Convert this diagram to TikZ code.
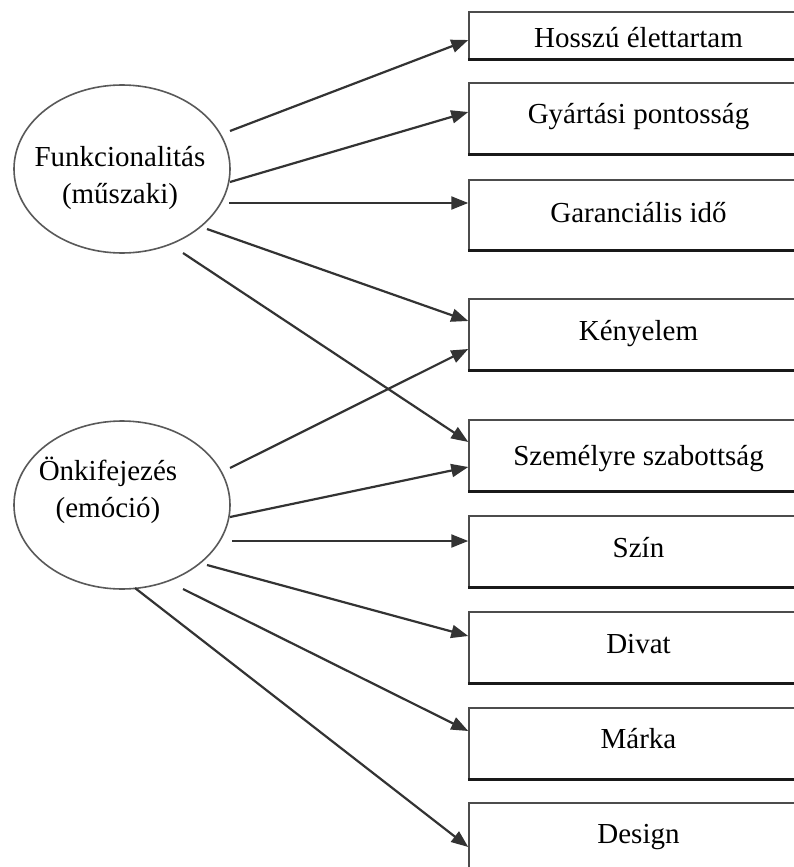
\documentclass[tikz,border=0pt]{standalone}
\usepackage{fontspec}
\setmainfont{Liberation Serif}
\usetikzlibrary{arrows.meta,calc,shapes.geometric}

\begin{document}
\begin{tikzpicture}[x=1pt,y=-1pt,
  lbl/.style={font=\fontsize{29}{37}\selectfont, inner sep=0pt, align=center},
  oval/.style={ellipse, draw=black!65, line width=1.6pt, minimum width=216pt, minimum height=168pt, inner sep=0pt},
  % #1 = height above baseline, #2 = depth below baseline
  itembox/.style 2 args={rectangle, draw=black!70, line width=1.5pt, fill=white,
    minimum width=339pt, inner sep=0pt, anchor=base, text height=#1pt, text depth=#2pt,
    font=\fontsize{29}{37}\selectfont},
  link/.style={draw=black!80, line width=2.2pt, -{Triangle[length=17pt,width=13pt]}}
]
\clip (0,0) rectangle (794,867);
\fill[white] (0,0) rectangle (794,867);

% source ellipses
\node[oval] (f) at (122,169) {};
\node[lbl] (ft) at (120,178) {Funkcionalitás\\(műszaki)};
\node[oval] (o) at (122,505) {};
\node[lbl] (ot) at (108,490) {Önkifejezés\\(emóció)};

% target boxes (right side runs past the frame)
\node[itembox={36}{11}] (b1) at (638.5,48)  {Hosszú élettartam};
\node[itembox={40}{31}] (b2) at (638.5,123) {Gyártási pontosság};
\node[itembox={42}{28}] (b3) at (638.5,222) {Garanciális idő};
\node[itembox={41}{30}] (b4) at (638.5,340) {Kényelem};
\node[itembox={45}{26}] (b5) at (638.5,465) {Személyre szabottság};
\node[itembox={41}{30}] (b6) at (638.5,557) {Szín};
\node[itembox={41}{30}] (b7) at (638.5,653) {Divat};
\node[itembox={40}{31}] (b8) at (638.5,748) {Márka};
\node[itembox={40}{31}] (b9) at (638.5,843) {Design};

% heavier lower edge of each box
\foreach \b in {b1,b2,b3,b4,b5,b6,b7,b8,b9}
  \draw[black!90, line width=2.8pt] (\b.south west) -- (\b.south east);

% functional attributes
\draw[link] ($(f.center)+(108,-38)$) -- ($(b1.west)+(0,4.5)$);
\draw[link] ($(f.center)+(108,13)$)  -- ($(b2.west)+(0,-6.5)$);
\draw[link] ($(f.center)+(107,34)$)  -- ($(b3.west)+(0,-12)$);
\draw[link] ($(f.center)+(85,60)$)   -- ($(b4.west)+(0,-13.5)$);
\draw[link] ($(f.center)+(61,84)$)   -- ($(b5.west)+(0,-13.5)$);

% emotional attributes
\draw[link] ($(o.center)+(108,-37)$) -- ($(b4.west)+(0,14.5)$);
\draw[link] ($(o.center)+(108,12)$)  -- ($(b5.west)+(0,11.5)$);
\draw[link] ($(o.center)+(110,36)$)  -- ($(b6.west)+(0,-10.5)$);
\draw[link] ($(o.center)+(85,60)$)   -- ($(b7.west)+(0,-11.5)$);
\draw[link] ($(o.center)+(61,84)$)   -- ($(b8.west)+(0,-12.5)$);
\draw[link] ($(o.center)+(13,83)$)   -- ($(b9.west)+(0,8.5)$);
\end{tikzpicture}
\end{document}
